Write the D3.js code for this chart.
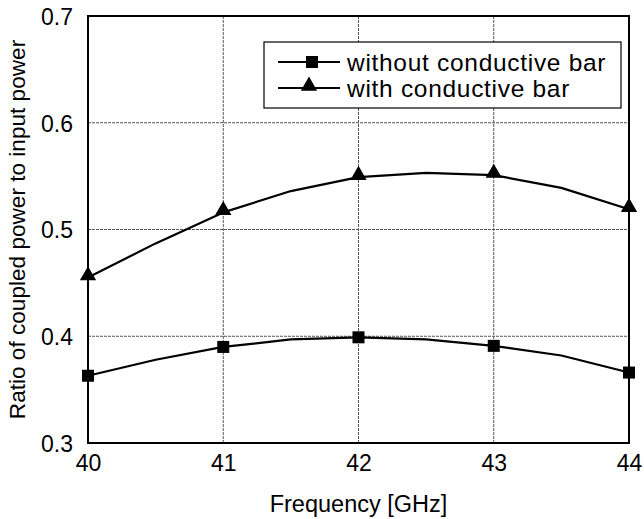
<!DOCTYPE html>
<html>
<head>
<meta charset="utf-8">
<script src="https://cdn.jsdelivr.net/npm/d3@7"></script>
<style>
  html, body { margin: 0; padding: 0; background: #fff; }
  svg { display: block; font-family: "Liberation Sans", Arial, Helvetica, sans-serif; }
</style>
</head>
<body>
<svg id="chart" width="644" height="519"></svg>
<script>
// Frequency sweep (GHz), sampled every 0.5 GHz; markers sit on whole GHz
const frequency = [40, 40.5, 41, 41.5, 42, 42.5, 43, 43.5, 44];
const withoutBar = [0.363, 0.378, 0.390, 0.397, 0.399, 0.397, 0.391, 0.382, 0.366];
const withBar    = [0.455, 0.487, 0.516, 0.536, 0.549, 0.553, 0.551, 0.539, 0.519];
const xTicks = [40, 41, 42, 43, 44];
const yTicks = [0.3, 0.4, 0.5, 0.6, 0.7];
const seriesNames = ["without conductive bar", "with conductive bar"];

const svg = d3.select("#chart");
const plot = { left: 88, right: 629, top: 16, bottom: 443 };

const x = d3.scaleLinear().domain([40, 44]).range([plot.left, plot.right]);
const y = d3.scaleLinear().domain([0.3, 0.7]).range([plot.bottom, plot.top]);

// grid
const grid = svg.append("g").attr("class", "grid");
grid.selectAll("line.gx").data(xTicks.slice(1, -1)).join("line")
  .attr("x1", d => x(d)).attr("x2", d => x(d))
  .attr("y1", plot.top).attr("y2", plot.bottom)
  .attr("stroke", "#555").attr("stroke-width", 1).attr("stroke-dasharray", "3,1");
grid.selectAll("line.gy").data(yTicks.slice(1, -1)).join("line")
  .attr("x1", plot.left).attr("x2", plot.right)
  .attr("y1", d => y(d)).attr("y2", d => y(d))
  .attr("stroke", "#555").attr("stroke-width", 1).attr("stroke-dasharray", "3,1");

// frame
svg.append("rect")
  .attr("x", plot.left).attr("y", plot.top)
  .attr("width", plot.right - plot.left).attr("height", plot.bottom - plot.top)
  .attr("fill", "none").attr("stroke", "#000").attr("stroke-width", 2);

// axes (labels only, gridlines serve as ticks)
const xAxis = svg.append("g").attr("transform", `translate(0,${plot.bottom})`)
  .call(d3.axisBottom(x).tickValues(xTicks).tickFormat(d3.format("d")).tickSize(0).tickPadding(0));
xAxis.select(".domain").remove();
xAxis.selectAll("text").attr("font-size", 23).attr("fill", "#000")
  .attr("dy", null).attr("y", 28);

const yAxis = svg.append("g").attr("transform", `translate(${plot.left},0)`)
  .call(d3.axisLeft(y).tickValues(yTicks).tickFormat(d3.format(".1f")).tickSize(0).tickPadding(15));
yAxis.select(".domain").remove();
yAxis.selectAll("text").attr("font-size", 23).attr("fill", "#000").attr("dy", "0.36em");

svg.selectAll(".tick line").remove();

// axis titles
svg.append("text")
  .attr("x", (plot.left + plot.right) / 2).attr("y", 512)
  .attr("text-anchor", "middle").attr("font-size", 23.5)
  .text("Frequency [GHz]");
svg.append("text")
  .attr("transform", `translate(25,${(plot.top + plot.bottom) / 2}) rotate(-90)`)
  .attr("text-anchor", "middle").attr("font-size", 22.6)
  .text("Ratio of coupled power to input power");

// series
const line = d3.line().x((d, i) => x(frequency[i])).y(d => y(d));
const triangle = d3.symbol().type(d3.symbolTriangle).size(115);

function drawSeries(values, marker) {
  svg.append("path").datum(values)
    .attr("d", line).attr("fill", "none")
    .attr("stroke", "#000").attr("stroke-width", 2.2).attr("stroke-linejoin", "round");
  const pts = frequency.map((f, i) => ({ f, v: values[i] })).filter(p => Number.isInteger(p.f));
  if (marker === "square") {
    svg.selectAll(null).data(pts).join("rect")
      .attr("x", p => x(p.f) - 6).attr("y", p => y(p.v) - 6)
      .attr("width", 12).attr("height", 12).attr("fill", "#000");
  } else {
    svg.selectAll(null).data(pts).join("path")
      .attr("d", triangle)
      .attr("transform", p => `translate(${x(p.f)},${y(p.v) - 2})`)
      .attr("fill", "#000");
  }
}
drawSeries(withoutBar, "square");
drawSeries(withBar, "triangle");

// legend
const legend = svg.append("g");
legend.append("rect")
  .attr("x", 264).attr("y", 42).attr("width", 357).attr("height", 66)
  .attr("fill", "#fff").attr("stroke", "#000").attr("stroke-width", 1.2);
const rows = [{ name: seriesNames[0], marker: "square", y: 62 },
              { name: seriesNames[1], marker: "triangle", y: 88 }];
rows.forEach(r => {
  legend.append("line").attr("x1", 278).attr("x2", 340)
    .attr("y1", r.y).attr("y2", r.y).attr("stroke", "#000").attr("stroke-width", 2);
  if (r.marker === "square") {
    legend.append("rect").attr("x", 306).attr("y", r.y - 6)
      .attr("width", 12).attr("height", 12).attr("fill", "#000");
  } else {
    legend.append("path").attr("d", triangle)
      .attr("transform", `translate(309,${r.y - 2})`).attr("fill", "#000");
  }
  legend.append("text").attr("x", 347).attr("y", r.y).attr("dy", "0.36em")
    .attr("font-size", 24.5).attr("letter-spacing", 0.7).text(r.name);
});
</script>
</body>
</html>
